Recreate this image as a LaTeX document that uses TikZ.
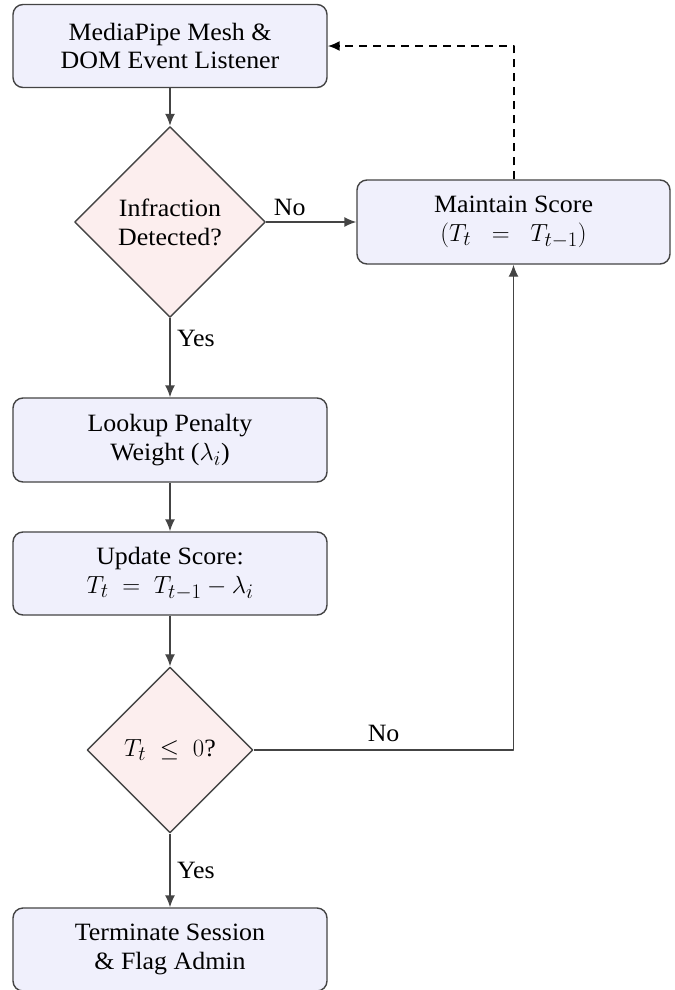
\documentclass[tikz,border=0pt]{standalone}
\usepackage{fontspec}
\setmainfont[FakeStretch=1.04]{Liberation Serif}
\DeclareMathSizes{25}{25}{21}{17}
\usetikzlibrary{shapes.geometric,arrows.meta}
\definecolor{boxfill}{RGB}{240,240,252}
\definecolor{decfill}{RGB}{252,238,238}
\definecolor{edgecol}{RGB}{68,68,68}
\tikzset{
  procbox/.style={draw=edgecol,fill=boxfill,rounded corners=10bp,
    minimum width=314bp,minimum height=83bp,align=center,inner sep=0pt},
  decision/.style={diamond,aspect=1,draw=edgecol,fill=decfill,
    align=center,inner sep=0pt},
}
\begin{document}
\begin{tikzpicture}[>={Latex[length=12bp,width=10bp]},line join=bevel,x=1bp,y=-1bp,
  font=\fontsize{25}{29}\selectfont]
  \pgfsetlinewidth{1.4bp}
  \useasboundingbox (0,0) rectangle (675,990);
%%
  % Node: mesh
  \node[procbox] (mesh) at (170,46) {MediaPipe Mesh \&\\DOM Event Listener};
  % Node: infr
  \node[decision,minimum size=191bp] (infr) at (170,222) {Infraction\\Detected?};
  % Node: maint
  \node[procbox,minimum width=313bp,minimum height=84bp] (maint) at (513.5,222)
    {Maintain Score\\$(T_t \;\;=\;\; T_{t-1})$};
  % Node: lookup
  \node[procbox,minimum height=84bp] (lookup) at (170,440) {Lookup Penalty\\Weight ($\lambda_i$)};
  % Node: update
  \node[procbox] (update) at (170,573.5) {Update Score:\\$T_t \;=\; T_{t-1} - \lambda_i$};
  % Node: zero
  \node[decision,minimum size=166bp] (zero) at (170,750) {$T_t \;\leq\; 0$?};
  % Node: term
  \node[procbox] (term) at (170,949.5) {Terminate Session\\\& Flag Admin};
%
  \begin{scope}[draw=edgecol]
  % Edge: mesh -> infr
  \draw [->] (mesh) -- (infr);
  % Edge: infr -> maint
  \draw [->] (infr.east) -- node[pos=0.26,above,yshift=2bp] {No} (maint.west);
  % Edge: infr -> lookup
  \draw [->] (infr.south) -- node[pos=0.25,anchor=west,xshift=3bp] {Yes} (lookup.north);
  % Edge: lookup -> update
  \draw [->] (lookup) -- (update);
  % Edge: update -> zero
  \draw [->] (update) -- (zero);
  % Edge: zero -> term
  \draw [->] (zero.south) -- node[pos=0.5,anchor=west,xshift=3bp] {Yes} (term.north);
  % Edge: zero -> maint
  \draw [->] (zero.east) -| node[pos=0.25,above,yshift=4bp] {No} (maint.south);
  \end{scope}
  % Edge: maint -> mesh
  \draw [->,black,line width=2bp,dash pattern=on 8bp off 6bp] (maint.north) |- (mesh.east);
%
\end{tikzpicture}
\end{document}
